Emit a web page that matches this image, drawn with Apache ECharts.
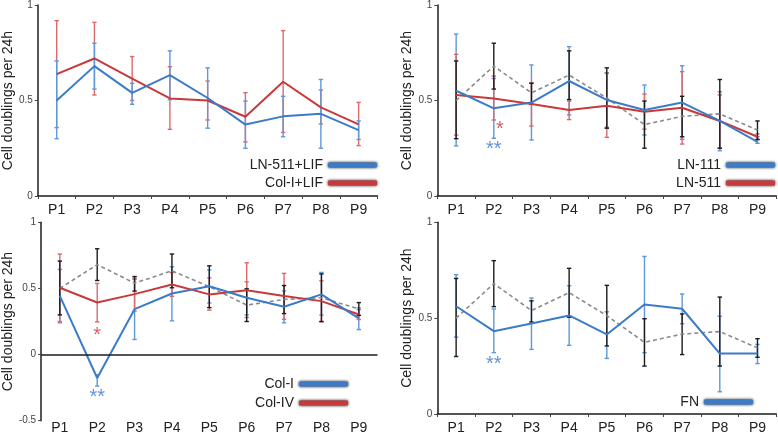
<!DOCTYPE html>
<html><head><meta charset="utf-8">
<script src="https://cdn.jsdelivr.net/npm/echarts@6/dist/echarts.min.js"></script>
<style>html,body{margin:0;padding:0;background:#fff}#c{width:778px;height:435px}</style>
</head><body><div id="c"></div>
<script>
const cats = ['P1','P2','P3','P4','P5','P6','P7','P8','P9'];
const yTicksTop = [0, 0.5, 1];
const yTicksBottomLeft = [-0.5, 0, 0.5, 1];
// Reference LN-511+LIF (blue in panel 1, grey dashed elsewhere)
const ln511lif   = [0.50, 0.68, 0.54, 0.633, 0.513, 0.374, 0.417, 0.43, 0.345];
const ln511lifLo = [0.30, 0.56, 0.48, 0.505, 0.355, 0.25, 0.31, 0.25, 0.296];
const ln511lifHi = [0.707, 0.80, 0.59, 0.76, 0.671, 0.497, 0.522, 0.61, 0.393];
// Col-I+LIF
const colIlif   = [0.638, 0.72, 0.614, 0.511, 0.50, 0.415, 0.598, 0.464, 0.375];
const colIlifLo = [0.358, 0.529, 0.50, 0.349, 0.398, 0.283, 0.333, 0.377, 0.264];
const colIlifHi = [0.918, 0.909, 0.73, 0.677, 0.602, 0.541, 0.866, 0.555, 0.49];
// LN-111
const ln111   = [0.551, 0.459, 0.489, 0.602, 0.503, 0.45, 0.489, 0.393, 0.284];
const ln111Lo = [0.262, 0.302, 0.293, 0.424, 0.36, 0.319, 0.297, 0.237, 0.276];
const ln111Hi = [0.848, 0.615, 0.686, 0.782, 0.645, 0.581, 0.682, 0.546, 0.31];
// LN-511
const ln511   = [0.529, 0.511, 0.482, 0.45, 0.473, 0.441, 0.462, 0.393, 0.31];
const ln511Lo = [0.319, 0.398, 0.366, 0.40, 0.307, 0.35, 0.272, 0.25, 0.295];
const ln511Hi = [0.742, 0.628, 0.593, 0.497, 0.642, 0.534, 0.651, 0.529, 0.325];
// Col-I
const colI   = [0.444, -0.177, 0.343, 0.462, 0.517, 0.429, 0.361, 0.455, 0.273];
const colILo = [0.25, -0.238, 0.114, 0.255, 0.39, 0.30, 0.24, 0.298, 0.189];
const colIHi = [0.644, -0.152, 0.57, 0.664, 0.64, 0.55, 0.48, 0.621, 0.353];
// Col-IV
const colIV   = [0.505, 0.394, 0.457, 0.53, 0.455, 0.487, 0.442, 0.404, 0.303];
const colIVLo = [0.24, 0.247, 0.328, 0.44, 0.336, 0.28, 0.267, 0.247, 0.265];
const colIVHi = [0.76, 0.538, 0.576, 0.62, 0.58, 0.694, 0.614, 0.558, 0.34];
// FN
const fn   = [0.562, 0.432, 0.472, 0.514, 0.415, 0.571, 0.549, 0.315, 0.315];
const fnLo = [0.401, 0.32, 0.337, 0.358, 0.29, 0.32, 0.471, 0.116, 0.263];
const fnHi = [0.727, 0.548, 0.605, 0.669, 0.533, 0.822, 0.626, 0.51, 0.363];
// significance markers [category, y]
const sigP2Red   = [['P2', 0.372]];
const sigP2Blue  = [['P2', 0.272]];
const sigP3Red   = [['P2', 0.184]];
const sigP3Blue  = [['P2', -0.29]];
const sigP4Blue  = [['P2', 0.285]];

const BLUE = '#3b7bc8', BLUE_E = '#5f98da';
const RED = '#c8393b', RED_E = '#da6a6c';
const GREY = '#8a8a8a', BLACK = '#1c1c1c';
const FONT = '"Liberation Sans", Arial, sans-serif';

function errData(lo, hi){ return cats.map((c,i)=>[c, lo[i], hi[i]]); }
function errSeries(idx, lo, hi, color, z){
  return {
    type:'custom', xAxisIndex:idx, yAxisIndex:idx, z:z||2, silent:true,
    encode:{x:0, y:[1,2]},
    data: errData(lo, hi),
    renderItem: function(params, api){
      const x = api.value(0);
      const a = api.coord([x, api.value(2)]);
      const b = api.coord([x, api.value(1)]);
      const w = 2.2;
      const st = {stroke: color, lineWidth: 1.4};
      return {type:'group', children:[
        {type:'line', shape:{x1:a[0], y1:a[1], x2:b[0], y2:b[1]}, style:st},
        {type:'line', shape:{x1:a[0]-w, y1:a[1], x2:a[0]+w, y2:a[1]}, style:st},
        {type:'line', shape:{x1:b[0]-w, y1:b[1], x2:b[0]+w, y2:b[1]}, style:st}
      ]};
    }
  };
}
function lineSeries(idx, name, data, color, dashed, z){
  return {
    type:'line', name:name, xAxisIndex:idx, yAxisIndex:idx, z:z||4,
    data:data, showSymbol:false, symbol:'none', silent:true, animation:false,
    lineStyle: dashed ? {color:color, width:1.6, type:[4,3]} : {color:color, width:2},
    itemStyle:{color:color}
  };
}
function starSeries(idx, data, text, color, dx){
  return {
    type:'scatter', xAxisIndex:idx, yAxisIndex:idx, symbolSize:0, z:6, silent:true,
    data:data,
    label:{show:true, position:'inside', formatter:text, color:color, fontSize:20,
           fontFamily:FONT, offset:[dx||0, 5]}
  };
}

const grids = [
  {left:37.5, top:5,     width:340, height:191},
  {left:437.3, top:5,    width:339, height:191},
  {left:37.5, top:222.3, width:340, height:198.4},
  {left:437.3, top:222.3, width:339, height:192.7}
];

function xAx(idx, opts){
  return Object.assign({
    type:'category', gridIndex:idx, data:cats, boundaryGap:true,
    axisLine:{show:true, onZero:false, lineStyle:{color:BLACK, width:1.5}},
    axisTick:{show:true, length:3, lineStyle:{color:'#444', width:1}},
    axisLabel:{color:'#222', fontSize:14, fontFamily:FONT, margin:7},
    splitLine:{show:false}
  }, opts||{});
}
function yAx(idx, min, max){
  return {
    type:'value', gridIndex:idx, min:min, max:max, interval:0.5,
    name:'Cell doublings per 24h', nameLocation:'middle', nameGap:21,
    nameTextStyle:{color:'#222', fontSize:14, fontFamily:FONT},
    axisLine:{show:true, lineStyle:{color:BLACK, width:1.5}},
    axisTick:{show:true, length:3, lineStyle:{color:'#444'}},
    axisLabel:{color:'#444', fontSize:10, fontFamily:FONT, margin:5},
    splitLine:{show:false}
  };
}

function legendItem(name, right, top){
  return {
    data:[name], orient:'horizontal', align:'right', right:right, top:top, padding:0,
    icon:'roundRect', itemWidth:49, itemHeight:5, itemGap:5,
    selectedMode:false,
    textStyle:{color:'#222', fontSize:14, fontFamily:FONT},
    itemStyle:{shadowBlur:3}
  };
}

const option = {
  animation:false,
  backgroundColor:'#fff',
  grid: grids,
  xAxis:[
    xAx(0), xAx(1),
    xAx(2, {axisLine:{show:false, onZero:false}, axisTick:{show:false},
            axisLabel:{color:'#222', fontSize:14, fontFamily:FONT, margin:0}}),
    xAx(3)
  ],
  yAxis:[ yAx(0, yTicksTop[0], yTicksTop[2]), yAx(1, yTicksTop[0], yTicksTop[2]),
          yAx(2, yTicksBottomLeft[0], yTicksBottomLeft[3]), yAx(3, yTicksTop[0], yTicksTop[2]) ],
  legend:[
    legendItem('LN-511+LIF', 401, 158),
    legendItem('Col-I+LIF', 401, 176),
    legendItem('LN-111', 3, 158),
    legendItem('LN-511', 3, 176),
    legendItem('Col-I', 430, 377),
    legendItem('Col-IV', 430, 396),
    legendItem('FN', 25, 395)
  ],
  series:[
    // Panel 1
    errSeries(0, colIlifLo, colIlifHi, RED_E),
    errSeries(0, ln511lifLo, ln511lifHi, BLUE_E),
    lineSeries(0, 'Col-I+LIF', colIlif, RED),
    lineSeries(0, 'LN-511+LIF', ln511lif, BLUE),
    // Panel 2
    errSeries(1, ln111Lo, ln111Hi, BLUE_E),
    errSeries(1, ln511Lo, ln511Hi, RED_E),
    errSeries(1, ln511lifLo, ln511lifHi, BLACK, 3),
    lineSeries(1, 'ref2', ln511lif, GREY, true),
    lineSeries(1, 'LN-511', ln511, RED),
    lineSeries(1, 'LN-111', ln111, BLUE),
    starSeries(1, sigP2Red, '*', RED, 6),
    starSeries(1, sigP2Blue, '**', BLUE),
    // Panel 3
    errSeries(2, colILo, colIHi, BLUE_E),
    errSeries(2, colIVLo, colIVHi, RED_E),
    errSeries(2, ln511lifLo, ln511lifHi, BLACK, 3),
    Object.assign(lineSeries(2, 'ref3', ln511lif, GREY, true), {
      markLine:{silent:true, symbol:'none', label:{show:false},
        lineStyle:{color:BLACK, width:1.5, type:'solid'}, data:[{yAxis:0}]}
    }),
    lineSeries(2, 'Col-IV', colIV, RED),
    lineSeries(2, 'Col-I', colI, BLUE),
    starSeries(2, sigP3Red, '*', RED),
    starSeries(2, sigP3Blue, '**', BLUE),
    // Panel 4
    errSeries(3, fnLo, fnHi, BLUE_E),
    errSeries(3, ln511lifLo, ln511lifHi, BLACK, 3),
    lineSeries(3, 'ref4', ln511lif, GREY, true),
    lineSeries(3, 'FN', fn, BLUE),
    starSeries(3, sigP4Blue, '**', BLUE)
  ]
};
const chart = echarts.init(document.getElementById('c'), null, {renderer:'canvas'});
chart.setOption(option);
</script></body></html>
